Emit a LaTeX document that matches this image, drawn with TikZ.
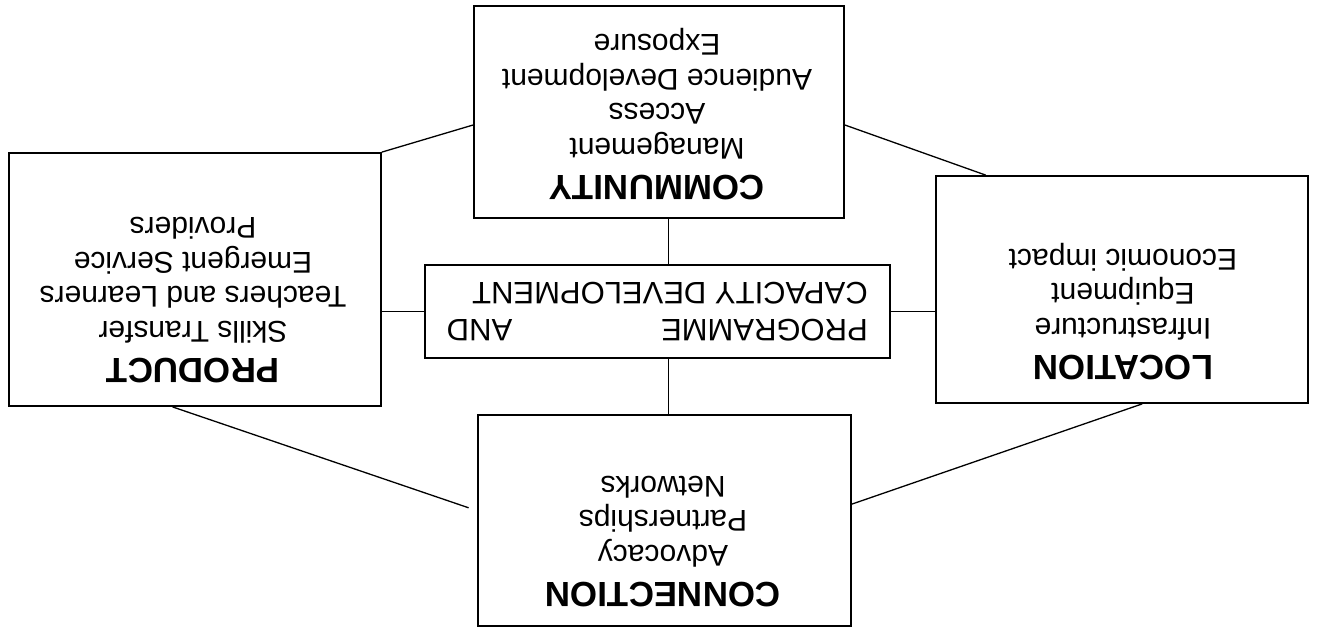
\documentclass[tikz,border=0pt]{standalone}
\usepackage{fontspec}
\setmainfont{Liberation Sans}
\begin{document}
\begin{tikzpicture}[x=1pt,y=-1pt,
  box/.style={draw,line width=1.8pt,inner sep=0pt},
  link/.style={line width=1.3pt},
  blocktext/.style={rotate=180,align=center,inner sep=0pt,anchor=north,
    font=\fontsize{30}{34.5}\selectfont},
  title/.style={}]
\useasboundingbox (0,0) rectangle (1318,629);
% boxes
\node[box,minimum width=370pt,minimum height=212pt] (comm) at (659,112) {};
\node[box,minimum width=372pt,minimum height=253pt] (prod) at (195,279.5) {};
\node[box,minimum width=465pt,minimum height=93pt] (cen) at (657.5,311.5) {};
\node[box,minimum width=372pt,minimum height=227pt] (loc) at (1122,289.5) {};
\node[box,minimum width=373pt,minimum height=211pt] (connection) at (664.5,520.5) {};
% texts (printed upside down)
\node[blocktext] (commtxt) at (657,200)
  {\textbf{\fontsize{35}{40}\selectfont COMMUNITY}\\[2.5pt]Management\\Access\\Audience Development\\Exposure};
\node[blocktext] (prodtxt) at (193,383)
  {\textbf{\fontsize{35}{40}\selectfont PRODUCT}\\[2.5pt]Skills Transfer\\Teachers and Learners\\Emergent Service\\Providers};
\node[blocktext] (loctxt) at (1123,380)
  {\textbf{\fontsize{35}{40}\selectfont LOCATION}\\[2.5pt]Infrastructure\\Equipment\\Economic impact};
\node[blocktext] (conntxt) at (663,607)
  {\textbf{\fontsize{35}{40}\selectfont CONNECTION}\\[2.5pt]Advocacy\\Partnerships\\Networks};
\node[rotate=180,align=left,inner sep=0pt,anchor=north west,
  font=\fontsize{31}{37}\selectfont] (centxt) at (868,341)
  {\makebox[421pt][l]{PROGRAMME\hfill AND}\\CAPACITY DEVELOPMENT};
% connectors
\draw[link] (prod.north east) -- (comm.184);
\draw[link] (comm.356.3) -- (loc.140.4);
\draw[link,shorten >=9pt] (prod.260) -- (connection.177.1);
\draw[link] (loc.280) -- (connection.5.4);
\draw[link] (cen.west) -- (cen.west -| prod.east);
\draw[link] (cen.east) -- (cen.east -| loc.west);
\draw[link] (comm.275.4) -- (comm.275.4 |- cen.north);
\draw[link] (comm.275.4 |- cen.south) -- (comm.275.4 |- connection.north);
\end{tikzpicture}
\end{document}
